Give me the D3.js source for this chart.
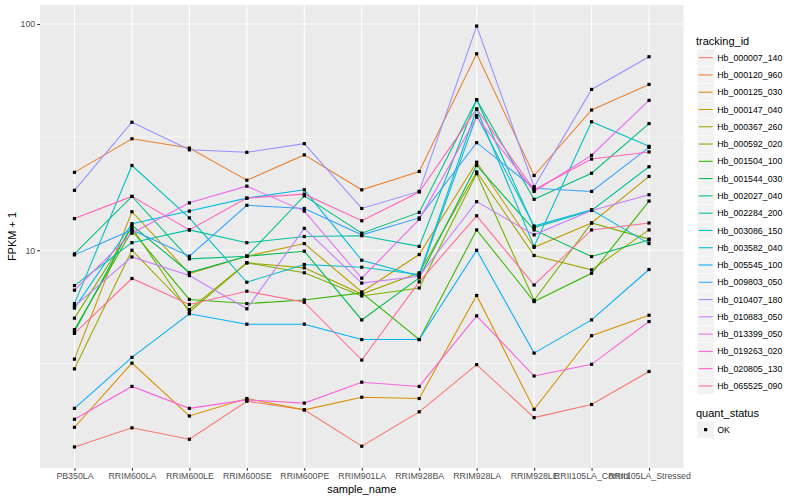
<!DOCTYPE html>
<html>
<head>
<meta charset="utf-8">
<script src="https://d3js.org/d3.v7.min.js"></script>
<style>
  body { margin: 0; background: #fff; }
  text { font-family: "Liberation Sans", Arial, Helvetica, sans-serif; }
</style>
</head>
<body>
<div id="chart"></div>
<script>
// samples on the x axis
var samples = ["PB350LA", "RRIM600LA", "RRIM600LE", "RRIM600SE", "RRIM600PE", "RRIM901LA",
  "RRIM928BA", "RRIM928LA", "RRIM928LE", "RRII105LA_Control", "RRII105LA_Stressed"];

var trackingIds = ["Hb_000007_140", "Hb_000120_960", "Hb_000125_030", "Hb_000147_040", "Hb_000367_260",
  "Hb_000592_020", "Hb_001504_100", "Hb_001544_030", "Hb_002027_040", "Hb_002284_200",
  "Hb_003086_150", "Hb_003582_040", "Hb_005545_100", "Hb_009803_050", "Hb_010407_180",
  "Hb_010883_050", "Hb_013399_050", "Hb_019263_020", "Hb_020805_130", "Hb_065525_090"];

// FPKM + 1, one row per tracking id, one value per sample
var fpkm = [
  [1.35, 1.64, 1.46, 2.15, 1.97, 1.36, 1.93, 3.12, 1.82, 2.08, 2.91],
  [22.1, 31.1, 28.3, 20.4, 26.4, 18.5, 22.3, 73.9, 21.4, 41.7, 54.1],
  [1.65, 3.17, 1.85, 2.21, 1.97, 2.24, 2.21, 6.31, 1.98, 4.19, 5.16],
  [3.30, 14.8, 7.89, 9.41, 10.7, 6.54, 9.57, 24.5, 10.3, 13.2, 21.2],
  [2.99, 10.0, 5.47, 8.80, 8.36, 6.40, 7.95, 22.2, 9.48, 8.19, 12.3],
  [5.01, 12.6, 5.32, 8.80, 7.95, 6.28, 6.81, 21.8, 6.01, 13.2, 11.2],
  [4.46, 12.2, 6.06, 5.81, 6.03, 6.48, 4.03, 12.3, 5.93, 7.91, 16.5],
  [4.37, 12.9, 7.97, 9.41, 9.90, 4.92, 7.55, 23.7, 12.3, 9.38, 11.1],
  [9.64, 17.3, 9.16, 9.41, 17.4, 11.9, 14.7, 46.3, 16.8, 21.9, 36.3],
  [6.98, 10.8, 12.3, 10.8, 11.5, 11.6, 10.4, 46.3, 12.6, 15.0, 23.4],
  [5.81, 23.7, 13.9, 7.22, 8.65, 8.41, 7.81, 42.1, 10.4, 37.0, 28.8],
  [5.55, 13.1, 14.9, 17.0, 18.5, 9.03, 7.69, 39.4, 12.8, 15.1, 10.7],
  [2.00, 3.36, 5.24, 4.71, 4.71, 4.03, 4.03, 10.0, 3.51, 4.92, 8.22],
  [9.54, 12.3, 9.41, 15.8, 15.3, 11.7, 13.9, 29.9, 18.8, 18.2, 28.5],
  [18.4, 36.8, 27.8, 27.1, 29.6, 15.3, 18.2, 98.0, 19.1, 51.4, 71.7],
  [5.66, 9.34, 7.73, 5.51, 12.5, 7.16, 7.68, 16.4, 11.7, 15.0, 17.6],
  [6.66, 11.9, 16.2, 19.2, 14.9, 7.52, 13.7, 38.8, 18.2, 26.3, 46.0],
  [1.79, 2.50, 2.00, 2.18, 2.11, 2.61, 2.50, 5.13, 2.78, 3.13, 4.84],
  [13.8, 17.3, 12.3, 17.0, 17.7, 13.5, 18.1, 42.1, 18.5, 25.3, 27.2],
  [4.29, 7.50, 5.76, 6.59, 5.89, 3.27, 7.25, 14.2, 7.02, 12.3, 13.2]
];

var yTicks = [10, 100];
var yMinor = [Math.sqrt(10), Math.sqrt(1000)];
var statusLevels = ["OK"];

// ggplot default hue palette for 20 levels
var colours = ["#F8766D", "#EA8331", "#D89000", "#C09B00", "#A3A500", "#7CAE00", "#39B600", "#00BB4E",
  "#00BF7D", "#00C1A3", "#00BFC4", "#00BAE0", "#00B0F6", "#35A2FF", "#9590FF", "#C77CFF",
  "#E76BF3", "#FA62DB", "#FF62BC", "#FF6C91"];

var W = 800, H = 500;
var panel = { left: 40, right: 683.5, top: 5, bottom: 468 };

var svg = d3.select("#chart").append("svg")
  .attr("width", W).attr("height", H);

// log y with 5% expansion like ggplot
var all = [].concat.apply([], fpkm);
var lo = Math.log10(d3.min(all)), hi = Math.log10(d3.max(all));
var pad = (hi - lo) * 0.05;
var y = d3.scaleLog().domain([Math.pow(10, lo - pad), Math.pow(10, hi + pad)])
  .range([panel.bottom, panel.top]);

var x = d3.scalePoint().domain(samples)
  .range([panel.left, panel.right]).padding(0.6);

var colour = d3.scaleOrdinal().domain(trackingIds).range(colours);

// panel background
svg.append("rect")
  .attr("x", panel.left).attr("y", panel.top)
  .attr("width", panel.right - panel.left).attr("height", panel.bottom - panel.top)
  .attr("fill", "#EBEBEB");

// grid
svg.append("g").selectAll("line").data(yMinor).enter().append("line")
  .attr("x1", panel.left).attr("x2", panel.right)
  .attr("y1", function (d) { return y(d); }).attr("y2", function (d) { return y(d); })
  .attr("stroke", "#fff").attr("stroke-width", 0.55);
svg.append("g").selectAll("line").data(yTicks).enter().append("line")
  .attr("x1", panel.left).attr("x2", panel.right)
  .attr("y1", function (d) { return y(d); }).attr("y2", function (d) { return y(d); })
  .attr("stroke", "#fff").attr("stroke-width", 1.1);
svg.append("g").selectAll("line").data(samples).enter().append("line")
  .attr("y1", panel.top).attr("y2", panel.bottom)
  .attr("x1", function (d) { return x(d); }).attr("x2", function (d) { return x(d); })
  .attr("stroke", "#fff").attr("stroke-width", 1.1);

// lines
var line = d3.line()
  .x(function (d, i) { return x(samples[i]); })
  .y(function (d) { return y(d); });

svg.append("g").selectAll("path").data(fpkm).enter().append("path")
  .attr("d", line)
  .attr("fill", "none")
  .attr("stroke", function (d, i) { return colour(trackingIds[i]); })
  .attr("stroke-width", 1.07);

// points
var pts = [];
fpkm.forEach(function (row) {
  row.forEach(function (v, j) { pts.push({ s: samples[j], v: v }); });
});
svg.append("g").selectAll("rect").data(pts).enter().append("rect")
  .attr("x", function (d) { return x(d.s) - 1.6; })
  .attr("y", function (d) { return y(d.v) - 1.6; })
  .attr("width", 3.2).attr("height", 3.2)
  .attr("fill", "#000");

// y axis
var yAxis = d3.axisLeft(y).tickValues(yTicks).tickSize(2.75).tickPadding(2)
  .tickFormat(d3.format("d"));
var gy = svg.append("g").attr("transform", "translate(" + panel.left + ",0)").call(yAxis);
gy.select(".domain").remove();
gy.selectAll("line").attr("stroke", "#333333").attr("stroke-width", 1.07);
gy.selectAll("text").attr("fill", "#4D4D4D").style("font-size", "8.8px")
  .style("font-family", "'Liberation Sans', Arial, sans-serif");

// x axis
var xAxis = d3.axisBottom(x).tickSize(2.75).tickPadding(2);
var gx = svg.append("g").attr("transform", "translate(0," + panel.bottom + ")").call(xAxis);
gx.select(".domain").remove();
gx.selectAll("line").attr("stroke", "#333333").attr("stroke-width", 1.07);
gx.selectAll("text").attr("fill", "#4D4D4D").style("font-size", "8.8px")
  .style("font-family", "'Liberation Sans', Arial, sans-serif");

// axis titles
svg.append("text")
  .attr("x", (panel.left + panel.right) / 2).attr("y", 493)
  .attr("text-anchor", "middle").style("font-size", "11px").text("sample_name");
svg.append("text")
  .attr("transform", "translate(16," + (panel.top + panel.bottom) / 2 + ") rotate(-90)")
  .attr("text-anchor", "middle").style("font-size", "11px").text("FPKM + 1");

// legend: tracking_id
var keyH = 17.28, keyX = 697, firstKey = 49;
var leg = svg.append("g");
leg.append("text").attr("x", 696).attr("y", 44.5).style("font-size", "11px").text("tracking_id");
var keys = leg.selectAll("g.key").data(trackingIds).enter().append("g")
  .attr("transform", function (d, i) { return "translate(" + keyX + "," + (firstKey + i * keyH) + ")"; });
keys.append("rect").attr("width", keyH).attr("height", keyH)
  .attr("fill", "#F2F2F2").attr("stroke", "#fff").attr("stroke-width", 0.5);
keys.append("line").attr("x1", 1.7).attr("x2", keyH - 1.7)
  .attr("y1", keyH / 2).attr("y2", keyH / 2)
  .attr("stroke", function (d) { return colour(d); }).attr("stroke-width", 1.07);
keys.append("text").attr("x", keyH + 3).attr("y", keyH / 2 + 3.1)
  .style("font-size", "8.8px").text(function (d) { return d; });

// legend: quant_status
var qY = 421;
leg.append("text").attr("x", 696).attr("y", 416.5).style("font-size", "11px").text("quant_status");
var qk = leg.selectAll("g.q").data(statusLevels).enter().append("g")
  .attr("transform", function (d, i) { return "translate(" + keyX + "," + (qY + i * keyH) + ")"; });
qk.append("rect").attr("width", keyH).attr("height", keyH)
  .attr("fill", "#F2F2F2").attr("stroke", "#fff").attr("stroke-width", 0.5);
qk.append("rect").attr("x", keyH / 2 - 1.6).attr("y", keyH / 2 - 1.6)
  .attr("width", 3.2).attr("height", 3.2).attr("fill", "#000");
qk.append("text").attr("x", keyH + 3).attr("y", keyH / 2 + 3.1)
  .style("font-size", "8.8px").text(function (d) { return d; });
</script>
</body>
</html>
